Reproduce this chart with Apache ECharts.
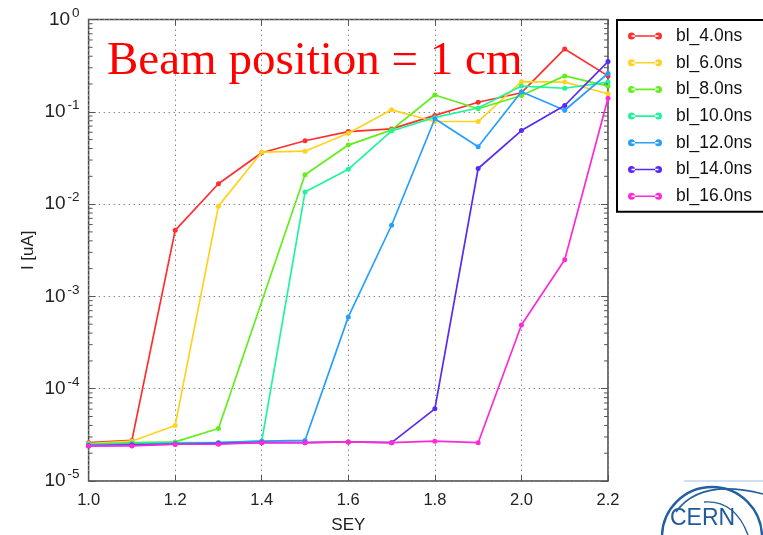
<!DOCTYPE html>
<html>
<head>
<meta charset="utf-8">
<title>Beam position = 1 cm</title>
<script src="https://cdn.jsdelivr.net/npm/echarts@6/dist/echarts.min.js"></script>
<style>
  html, body { margin: 0; padding: 0; background: #ffffff; overflow: hidden; }
  #chart { width: 763px; height: 535px; }
</style>
</head>
<body>
<div id="chart"></div>
<script>
// SEY values sampled for every bunch length
const sey = [1.0, 1.1, 1.2, 1.3, 1.4, 1.5, 1.6, 1.7, 1.8, 1.9, 2.0, 2.1, 2.2];

// Current I [uA] per bunch length (null = no sample)
const bl4  = [2.6e-5, 2.75e-5, 5.2e-3, 0.0166, 0.036, 0.0486, 0.061, 0.0653, 0.0914, 0.127, 0.161, 0.48, 0.245];
const bl6  = [2.55e-5, 2.7e-5, 4.0e-5, 9.5e-3, 0.0365, 0.0374, 0.0585, 0.105, 0.0785, 0.0785, 0.212, 0.21, 0.157];
const bl8  = [2.5e-5, 2.6e-5, 2.65e-5, 3.7e-5, null, 0.0208, 0.0436, 0.0637, 0.152, 0.108, 0.150, 0.245, 0.19];
const bl10 = [2.5e-5, 2.55e-5, 2.6e-5, 2.6e-5, 2.7e-5, 0.0135, 0.0238, 0.062, 0.087, 0.11, 0.19, 0.18, 0.21];
const bl12 = [2.45e-5, 2.5e-5, 2.55e-5, 2.6e-5, 2.7e-5, 2.75e-5, 6.0e-4, 5.9e-3, 0.084, 0.0418, 0.165, 0.104, 0.26];
const bl14 = [2.4e-5, 2.45e-5, 2.5e-5, 2.55e-5, 2.6e-5, 2.6e-5, 2.65e-5, 2.6e-5, 6.05e-5, 0.0243, 0.0626, 0.117, 0.35];
const bl16 = [2.4e-5, 2.4e-5, 2.5e-5, 2.5e-5, 2.6e-5, 2.6e-5, 2.65e-5, 2.6e-5, 2.7e-5, 2.6e-5, 4.9e-4, 2.5e-3, 0.14];

const seriesNames = ['bl_4.0ns', 'bl_6.0ns', 'bl_8.0ns', 'bl_10.0ns', 'bl_12.0ns', 'bl_14.0ns', 'bl_16.0ns'];
const seriesValues = [bl4, bl6, bl8, bl10, bl12, bl14, bl16];
const seriesColors = ['#ff2e2e', '#ffd21f', '#62ee1c', '#1ff59a', '#26a0ff', '#5a2af5', '#ff2ad6'];

// Axis ranges and tick labels
const xMin = 1.0, xMax = 2.2, xStep = 0.2;
const yMin = 1e-5, yMax = 1;
const xTickLabels = ['1.0', '1.2', '1.4', '1.6', '1.8', '2.0', '2.2'];
const yExponents = [-5, -4, -3, -2, -1, 0];

// Minor log ticks: 2..9 x 10^k inside each decade
const minorTicks = [];
for (let k = -5; k < 0; k++) {
  for (let m = 2; m <= 9; m++) minorTicks.push([m * Math.pow(10, k)]);
}

const LABEL_FONT = '"Liberation Sans", Arial, sans-serif';

// Legend glyph: a short line with a dot at each end
const legendIcon = 'path://M3.5,4.2L30.5,4.2L30.5,5.8L3.5,5.8Z' +
  'M0,5a3.5,3.5 0 1 0 7,0a3.5,3.5 0 1 0 -7,0Z' +
  'M27,5a3.5,3.5 0 1 0 7,0a3.5,3.5 0 1 0 -7,0Z';

const lineSeries = seriesNames.map((name, i) => ({
  name: name,
  type: 'line',
  xAxisIndex: 0,
  yAxisIndex: 0,
  data: sey.map((x, j) => [x, seriesValues[i][j] == null ? '-' : seriesValues[i][j]]),
  connectNulls: true,
  symbol: 'circle',
  symbolSize: 5,
  showSymbol: true,
  color: seriesColors[i],
  lineStyle: { width: 1.7, color: seriesColors[i] },
  itemStyle: { color: seriesColors[i] },
  emphasis: { disabled: true },
  animation: false,
  z: 3 + i
}));

// Minor tick marks on the left and right frame edges
const minorTickSeries = {
  type: 'custom',
  name: 'minorTicks',
  xAxisIndex: 0,
  yAxisIndex: 0,
  data: minorTicks,
  silent: true,
  animation: false,
  clip: false,
  z: 20,
  renderItem: function (params, api) {
    const v = api.value(0);
    const l = api.coord([xMin, v]);
    const r = api.coord([xMax, v]);
    const st = { stroke: '#555', lineWidth: 1 };
    return {
      type: 'group',
      children: [
        { type: 'line', shape: { x1: l[0], y1: l[1], x2: l[0] + 4, y2: l[1] }, style: st },
        { type: 'line', shape: { x1: r[0], y1: r[1], x2: r[0] - 4, y2: r[1] }, style: st }
      ]
    };
  }
};

const chart = echarts.init(document.getElementById('chart'), null, { renderer: 'canvas' });

chart.setOption({
  backgroundColor: '#ffffff',
  animation: false,
  grid: {
    left: 88.6, right: 155, top: 19.5, bottom: 54,
    outerBoundsMode: 'none',
    containLabel: false,
    show: true, borderColor: '#444', borderWidth: 1.5,
    backgroundColor: 'transparent'
  },
  legend: {
    data: seriesNames,
    orient: 'vertical',
    left: 617,
    top: 20,
    padding: [7, 60, 6.5, 11],
    itemGap: 8.7,
    itemWidth: 34,
    itemHeight: 8,
    icon: legendIcon,
    borderColor: '#000',
    borderWidth: 2,
    backgroundColor: '#fff',
    selectedMode: false,
    textStyle: {
      fontFamily: LABEL_FONT,
      fontSize: 17.5,
      color: '#111',
      padding: [0, 0, 0, 9]
    }
  },
  xAxis: [
    {
      type: 'value', min: xMin, max: xMax, interval: xStep,
      position: 'bottom',
      name: 'SEY', nameLocation: 'middle', nameGap: 36, nameMoveOverlap: false,
      nameTextStyle: { fontFamily: LABEL_FONT, fontSize: 17, color: '#222' },
      axisLine: { show: false },
      axisTick: { show: true, inside: true, length: 6, lineStyle: { color: '#555', width: 1 } },
      axisLabel: {
        margin: 11,
        fontFamily: LABEL_FONT, fontSize: 16.5, color: '#222',
        formatter: function (v) {
          const idx = Math.round((v - xMin) / xStep);
          return xTickLabels[idx] || '';
        }
      },
      splitLine: { show: true, lineStyle: { color: '#888', type: [1.5, 3.5], width: 1 } }
    },
    {
      type: 'value', min: xMin, max: xMax, interval: xStep,
      position: 'top',
      axisLine: { show: false },
      axisTick: { show: true, inside: true, length: 6, lineStyle: { color: '#555', width: 1 } },
      axisLabel: { show: false },
      splitLine: { show: false }
    }
  ],
  yAxis: [
    {
      type: 'log', logBase: 10, min: yMin, max: yMax,
      position: 'left',
      name: 'I [uA]', nameLocation: 'middle', nameGap: 52, nameRotate: 90, nameMoveOverlap: false,
      nameTextStyle: { fontFamily: LABEL_FONT, fontSize: 17, color: '#222' },
      axisLine: { show: false },
      axisTick: { show: true, inside: true, length: 7, lineStyle: { color: '#555', width: 1 } },
      axisLabel: {
        margin: 9,
        formatter: function (v) {
          const e = Math.round(Math.log10(v));
          if (yExponents.indexOf(e) < 0) return '';
          return '{b|10}{s|' + e + '}';
        },
        rich: {
          b: { fontFamily: LABEL_FONT, fontSize: 19, color: '#222' },
          s: { fontFamily: LABEL_FONT, fontSize: 13.5, color: '#222', padding: [0, 0, 13, 2] }
        }
      },
      splitLine: { show: true, lineStyle: { color: '#888', type: [1.5, 3.5], width: 1 } }
    },
    {
      type: 'log', logBase: 10, min: yMin, max: yMax,
      position: 'right',
      axisLine: { show: false },
      axisTick: { show: true, inside: true, length: 7, lineStyle: { color: '#555', width: 1 } },
      axisLabel: { show: false },
      splitLine: { show: false }
    }
  ],
  graphic: [
    {
      type: 'text', left: 107, top: 38.5, z: 100,
      style: {
        text: 'Beam position = 1 cm',
        font: '47px "Liberation Serif", "Times New Roman", serif',
        fill: '#ff0000'
      }
    },
    // CERN emblem in the bottom-right corner
    {
      type: 'group', z: 100,
      children: [
        { type: 'line', shape: { x1: 684, y1: 481, x2: 763, y2: 481 },
          style: { stroke: '#cfe0f2', lineWidth: 2 } },
        { type: 'circle', shape: { cx: 712, cy: 537, r: 50 },
          style: { fill: 'none', stroke: '#24609f', lineWidth: 2.4 } },
        { type: 'bezierCurve', shape: { x1: 676, y1: 512, cpx1: 700, cpy1: 478, x2: 763, y2: 494 },
          style: { fill: 'none', stroke: '#24609f', lineWidth: 1.6 } },
        { type: 'bezierCurve', shape: { x1: 704, y1: 502, cpx1: 735, cpy1: 500, x2: 748, y2: 535 },
          style: { fill: 'none', stroke: '#24609f', lineWidth: 1.4 } },
        { type: 'text', left: 670, top: 507,
          style: { text: 'CERN', font: '23px "Liberation Sans", Arial, sans-serif', fill: '#1f5a9c' } }
      ]
    }
  ],
  series: lineSeries.concat([minorTickSeries])
});
</script>
</body>
</html>
